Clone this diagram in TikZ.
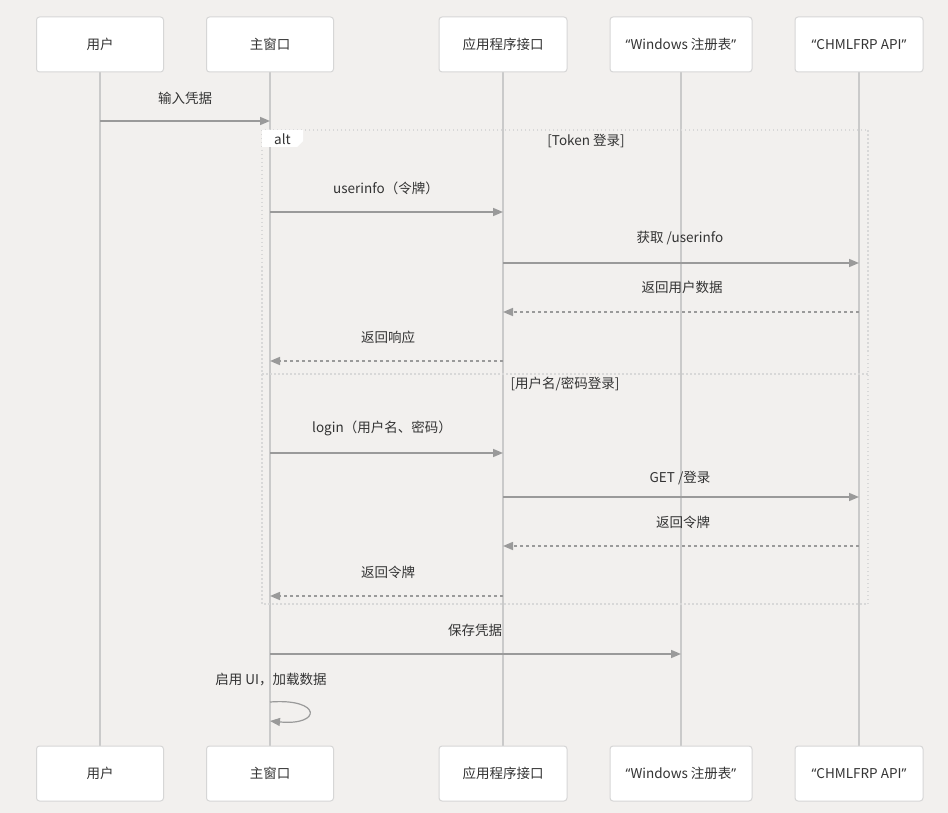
\documentclass[tikz,border=0pt]{standalone}
\usepackage{fontspec}
\newfontfamily\cjk{Noto Sans CJK SC}
\newfontfamily\lat{Noto Sans}
\usetikzlibrary{arrows.meta}
\definecolor{bg}{HTML}{F2F0EE}
\definecolor{boxline}{HTML}{D6D6D6}
\definecolor{life}{HTML}{CACACA}
\definecolor{msg}{HTML}{9A9A9A}
\definecolor{txt}{HTML}{333333}
\definecolor{frame}{HTML}{D8D8D8}
\tikzset{
  actor/.style={draw=boxline, line width=1pt, fill=white, rounded corners=3pt, minimum height=55pt, text=txt, font=\cjk\fontsize{13.5}{16}\selectfont},
  lifeline/.style={draw=life, line width=2pt},
  msgline/.style={draw=msg, line width=1.5pt, -{Triangle[length=10pt,width=8pt]}},
  replyline/.style={msgline, dash pattern=on 3pt off 3pt},
  msglabel/.style={text=txt, font=\cjk\fontsize{13.5}{16}\selectfont, inner sep=0pt},
  framebox/.style={draw=frame, line width=1.5pt, dash pattern=on 1.5pt off 2.5pt},
}
\newcommand{\myoq}{{\lat “}}
\newcommand{\mycq}{{\lat ”}}
\begin{document}
\begin{tikzpicture}[x=1pt,y=-1pt]
\fill[bg] (0,0) rectangle (948,813);
\useasboundingbox (0,0) rectangle (948,813);
% lifelines first (behind)
\coordinate (uTs) at (100,72);
\coordinate (wTs) at (270,72);
\coordinate (aTs) at (503,72);
\coordinate (rTs) at (681,72);
\coordinate (cTs) at (859,72);
\coordinate (uBn) at (100,746);
\coordinate (wBn) at (270,746);
\coordinate (aBn) at (503,746);
\coordinate (rBn) at (681,746);
\coordinate (cBn) at (859,746);
\draw[lifeline] (uTs) -- (uBn);
\draw[lifeline] (wTs) -- (wBn);
\draw[lifeline] (aTs) -- (aBn);
\draw[lifeline] (rTs) -- (rBn);
\draw[lifeline] (cTs) -- (cBn);
% actors top
\node[actor, minimum width=127pt] (uT) at (100,44.5) {用户};
\node[actor, minimum width=127pt] (wT) at (270,44.5) {主窗口};
\node[actor, minimum width=128pt] (aT) at (503,44.5) {应用程序接口};
\node[actor, minimum width=142pt] (rT) at (681,44.5) {\myoq Windows 注册表\mycq};
\node[actor, minimum width=128pt] (cT) at (859,44.5) {\myoq CHMLFRP API\mycq};
% actors bottom
\node[actor, minimum width=127pt] (uB) at (100,773.5) {用户};
\node[actor, minimum width=127pt] (wB) at (270,773.5) {主窗口};
\node[actor, minimum width=128pt] (aB) at (503,773.5) {应用程序接口};
\node[actor, minimum width=142pt] (rB) at (681,773.5) {\myoq Windows 注册表\mycq};
\node[actor, minimum width=128pt] (cB) at (859,773.5) {\myoq CHMLFRP API\mycq};
% alt frame
\draw[framebox] (262,130) rectangle (868,604);
\draw[framebox] (262,374) -- (868,374);
\fill[white] (262,130) -- (303,130) -- (303,141) -- (297,147) -- (262,147) -- cycle;
\node[msglabel] (altl) at (282.5,139) {alt};
\node[msglabel] (c1) at (586,141) {[Token 登录]};
\node[msglabel] (c2) at (565,384) {[用户名/密码登录]};
% messages
\node[msglabel] (l1) at (185,98) {输入凭据};
\draw[msgline] (uT |- 0,121) -- (wT |- 0,121);
\node[msglabel] (l2) at (386,188) {userinfo（令牌）};
\draw[msgline] (wT |- 0,212) -- (aT |- 0,212);
\node[msglabel] (l3) at (680,238) {获取 /userinfo};
\draw[msgline] (aT |- 0,263) -- (cT |- 0,263);
\node[msglabel] (l4) at (682,287) {返回用户数据};
\draw[replyline] (cT |- 0,312) -- (aT |- 0,312);
\node[msglabel] (l5) at (388,337) {返回响应};
\draw[replyline] (aT |- 0,361) -- (wT |- 0,361);
\node[msglabel] (l6) at (382,428) {login（用户名、密码）};
\draw[msgline] (wT |- 0,453) -- (aT |- 0,453);
\node[msglabel] (l7) at (680,478) {GET /登录};
\draw[msgline] (aT |- 0,497) -- (cT |- 0,497);
\node[msglabel] (l8) at (683,522) {返回令牌};
\draw[replyline] (cT |- 0,546) -- (aT |- 0,546);
\node[msglabel] (l9) at (388,572) {返回令牌};
\draw[replyline] (aT |- 0,596) -- (wT |- 0,596);
\node[msglabel] (l10) at (475,630) {保存凭据};
\draw[msgline] (wT |- 0,654) -- (rT |- 0,654);
\node[msglabel] (l11) at (271,680) {启用 UI，加载数据};
\draw[msgline, line width=1.2pt] (wT |- 0,702) .. controls (322,698) and (322,726) .. (wT |- 0,721);
\end{tikzpicture}
\end{document}
